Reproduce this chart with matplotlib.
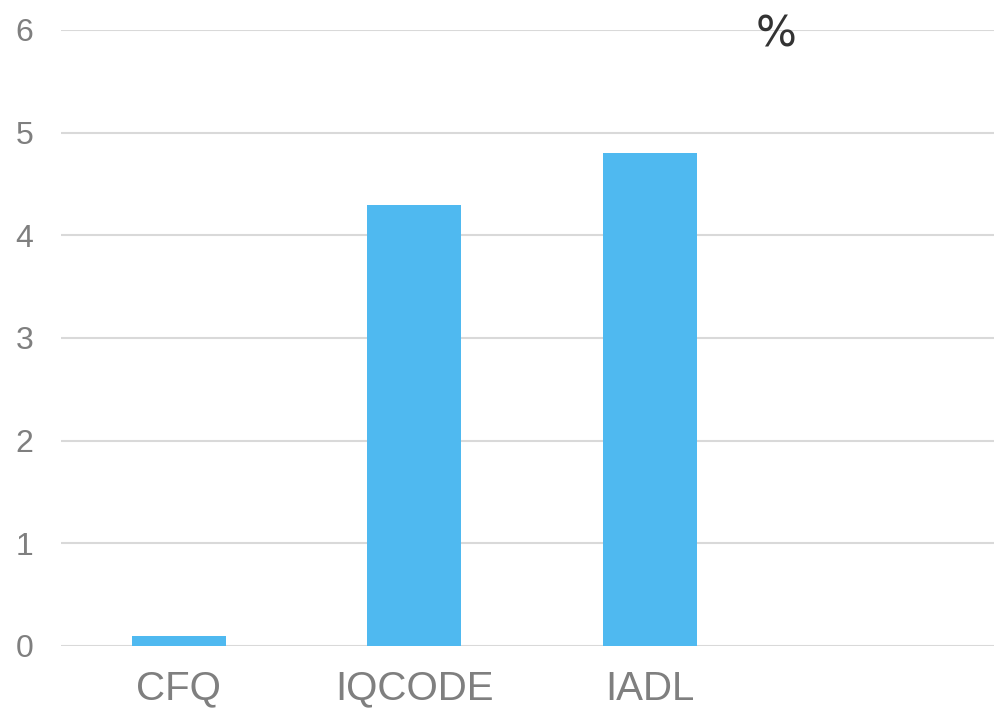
import numpy as np
import matplotlib.pyplot as plt

categories = ["CFQ", "IQCODE", "IADL", ""]
values = [0.1, 4.3, 4.8, 0]
yticks = [0, 1, 2, 3, 4, 5, 6]

fig = plt.figure(figsize=(9.94, 7.12), dpi=100)
ax = fig.add_axes([0.0614, 0.0927, 0.9477, 0.8652])

x = np.arange(len(categories))
ax.bar(x[:3], values[:3], width=0.4, color="#4FB9F0", zorder=3)

ax.set_xlim(-0.5, 3.5)
ax.set_ylim(0, 6)
ax.set_yticks(yticks)
ax.set_yticklabels([str(t) for t in yticks], family="Liberation Sans", fontsize=23, color="#7f7f7f")
ax.set_xticks(x)
ax.set_xticklabels(categories, family="Liberation Sans", fontsize=29, color="#7f7f7f")
ax.tick_params(axis="y", length=0, pad=20)
ax.tick_params(axis="x", length=0, pad=17)
ax.grid(axis="y", color="#d9d9d9", linewidth=1.5, zorder=0)
for s in ax.spines.values():
    s.set_visible(False)

ax.text(2.536, 5.835, "%", family="DejaVu Sans", fontsize=31, color="#333333",
        ha="center", va="baseline")

fig.savefig("out.png", dpi=100)
